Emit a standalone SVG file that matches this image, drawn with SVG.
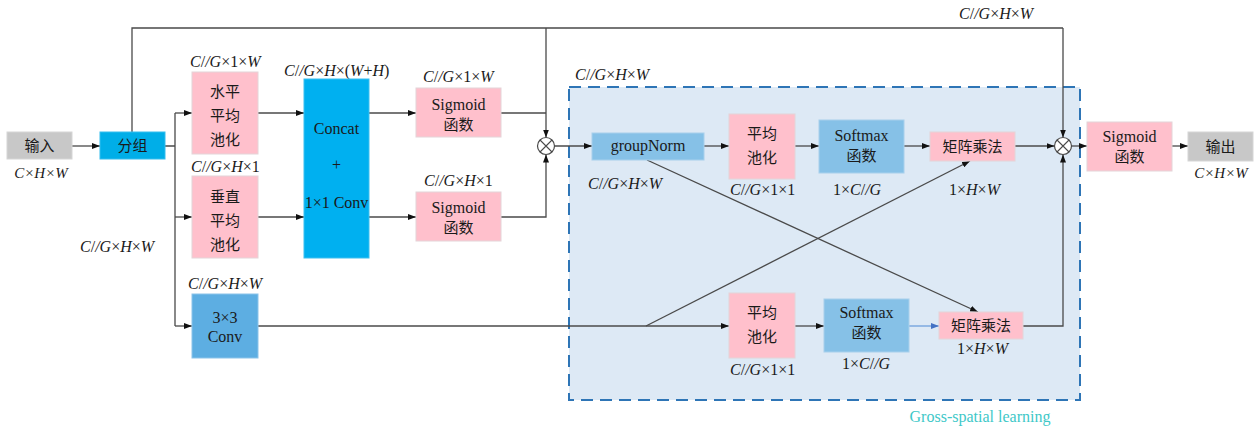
<svg xmlns="http://www.w3.org/2000/svg" width="1254" height="427" viewBox="0 0 1254 427">
  <style>
    .lbl { font-family: "Liberation Serif", "Times New Roman", "DejaVu Serif", "Noto Sans CJK SC", serif; font-size: 16px; fill: #1a1a1a; }
    .sm { font-size: 15px; }
    .it { font-style: italic; }
    .txt { font-family: "Liberation Serif", "Times New Roman", "DejaVu Serif", "Noto Sans CJK SC", serif; font-size: 16px; fill: #1a1a1a; text-anchor: middle; }
    .cjk { font-family: "Noto Sans CJK SC", sans-serif; font-size: 15px; fill: #1a1a1a; text-anchor: middle; }
    .gray { fill: #c8c8c8; stroke: #d6d6d6; }
    .cyan { fill: #00aee8; stroke: #34bdee; }
    .pink { fill: #ffc0cc; stroke: #e4d4d8; }
    .lblue { fill: #86c1e7; stroke: #a8d0ec; }
    .mblue { fill: #5daee2; stroke: #8cc4ea; }
    .wire { fill: none; stroke: #4a4a4a; stroke-width: 1.3; }
    .wire-a { fill: none; stroke: #4a4a4a; stroke-width: 1.3; marker-end: url(#arr); }
    .wire-b { fill: none; stroke: #6f9fdc; stroke-width: 1.3; marker-end: url(#arrb); }
  </style>
  <defs>
    <marker id="arr" markerWidth="8" markerHeight="6" refX="8" refY="3" orient="auto" markerUnits="userSpaceOnUse">
      <path d="M0,0 L8,3 L0,6 z" fill="#111"/>
    </marker>
    <marker id="arrb" markerWidth="8" markerHeight="6" refX="8" refY="3" orient="auto" markerUnits="userSpaceOnUse">
      <path d="M0,0 L8,3 L0,6 z" fill="#4472c4"/>
    </marker>
  </defs>

  <rect width="1254" height="427" fill="#ffffff"/>

  <!-- Cross-spatial learning region -->
  <g id="cross-spatial">
    <rect x="569" y="87" width="511" height="313" fill="#dde9f5" stroke="#2e75b6" stroke-width="2" stroke-dasharray="12,7"/>
    <text class="lbl" x="980" y="422" style="fill:#3ec8c8" text-anchor="middle">Gross-spatial learning</text>
    <text class="lbl" x="575" y="80"><tspan class="it">C</tspan>/<tspan class="it">/G</tspan>×<tspan class="it">H</tspan>×<tspan class="it">W</tspan></text>
  </g>

  <!-- Connectors -->
  <g id="connectors">
    <path class="wire-a" d="M72,146 H100"/>
    <path class="wire" d="M165,146 H175 M175,113 V326"/>
    <path class="wire-a" d="M175,113 H192"/>
    <path class="wire-a" d="M175,217 H192"/>
    <path class="wire-a" d="M175,326 H192"/>
    <path class="wire" d="M132,132 V28 H1063"/>
    <path class="wire-a" d="M546,28 V137.5"/>
    <path class="wire-a" d="M1063,28 V137.5"/>
    <path class="wire-a" d="M258,113 H304"/>
    <path class="wire-a" d="M258,217 H304"/>
    <path class="wire-a" d="M369,113 H416"/>
    <path class="wire-a" d="M369,217 H416"/>
    <path class="wire" d="M501,113 H546"/>
    <path class="wire-a" d="M501,217 H546 V154.5"/>
    <path class="wire-a" d="M555,146 H592"/>
    <path class="wire-a" d="M704,146 H729"/>
    <path class="wire-a" d="M795,146 H819"/>
    <path class="wire-a" d="M904,146 H930"/>
    <path class="wire-a" d="M1015,146 H1054.5"/>
    <path class="wire-a" d="M1071.5,146 H1087"/>
    <path class="wire-a" d="M1172,146 H1188"/>
    <path class="wire-a" d="M258,326 H729"/>
    <path class="wire-a" d="M646,326 L970,161"/>
    <path class="wire-a" d="M647,160 L978,312"/>
    <path class="wire-a" d="M795,326 H824"/>
    <path class="wire-b" d="M909,326 H939"/>
    <path class="wire-a" d="M1023,326 H1063 V154.5"/>
  </g>

  <!-- Multiplication nodes -->
  <g id="mul1">
    <circle cx="546" cy="146" r="8.5" fill="#ffffff" stroke="#4a4a4a" stroke-width="1.2"/>
    <path d="M540,140 L552,152 M552,140 L540,152" stroke="#4a4a4a" stroke-width="1.1"/>
  </g>
  <g id="mul2">
    <circle cx="1063" cy="146" r="8.5" fill="#ffffff" stroke="#4a4a4a" stroke-width="1.2"/>
    <path d="M1057,140 L1069,152 M1069,140 L1057,152" stroke="#4a4a4a" stroke-width="1.1"/>
  </g>

  <!-- Input -->
  <g id="input">
    <rect class="gray" x="7" y="132" width="65" height="27"/>
    <text class="cjk" x="39.5" y="151" font-size="16">输入</text>
    <text class="lbl sm it" x="41" y="178" text-anchor="middle">C×H×W</text>
  </g>

  <!-- Grouping -->
  <g id="group">
    <rect class="cyan" x="100" y="132" width="65" height="27"/>
    <text class="cjk" x="132.5" y="151" font-size="16">分组</text>
  </g>
  <text class="lbl" x="80" y="252"><tspan class="it">C</tspan>/<tspan class="it">/G</tspan>×<tspan class="it">H</tspan>×<tspan class="it">W</tspan></text>

  <!-- Horizontal pooling -->
  <g id="pool-x">
    <text class="lbl" x="190" y="67"><tspan class="it">C</tspan>/<tspan class="it">/G</tspan>×1×<tspan class="it">W</tspan></text>
    <rect class="pink" x="192" y="72" width="66" height="82"/>
    <text class="cjk" x="225" y="97">水平</text>
    <text class="cjk" x="225" y="121">平均</text>
    <text class="cjk" x="225" y="145">池化</text>
  </g>

  <!-- Vertical pooling -->
  <g id="pool-y">
    <text class="lbl" x="191" y="172"><tspan class="it">C</tspan>/<tspan class="it">/G</tspan>×<tspan class="it">H</tspan>×1</text>
    <rect class="pink" x="192" y="176" width="66" height="82"/>
    <text class="cjk" x="225" y="202">垂直</text>
    <text class="cjk" x="225" y="226">平均</text>
    <text class="cjk" x="225" y="250">池化</text>
  </g>

  <!-- 3x3 conv -->
  <g id="conv3">
    <text class="lbl" x="188" y="289"><tspan class="it">C</tspan>/<tspan class="it">/G</tspan>×<tspan class="it">H</tspan>×<tspan class="it">W</tspan></text>
    <rect class="mblue" x="192" y="294" width="66" height="64"/>
    <text class="txt" x="225" y="323">3×3</text>
    <text class="txt" x="225" y="342">Conv</text>
  </g>

  <!-- Concat + 1x1 conv -->
  <g id="concat">
    <text class="lbl" x="284" y="76"><tspan class="it">C</tspan>/<tspan class="it">/G</tspan>×<tspan class="it">H</tspan>×(<tspan class="it">W</tspan>+<tspan class="it">H</tspan>)</text>
    <rect x="304" y="79" width="65" height="179" fill="#00b0f0" stroke="#3cbff0"/>
    <text class="txt" x="336.5" y="134">Concat</text>
    <text class="txt" x="336.5" y="170">+</text>
    <text class="txt" x="336.5" y="208">1×1 Conv</text>
  </g>

  <!-- Sigmoid (horizontal) -->
  <g id="sig-x">
    <text class="lbl" x="423" y="82"><tspan class="it">C</tspan>/<tspan class="it">/G</tspan>×1×<tspan class="it">W</tspan></text>
    <rect class="pink" x="416" y="88" width="85" height="49"/>
    <text class="txt" x="458.5" y="110">Sigmoid</text>
    <text class="cjk" x="458.5" y="130">函数</text>
  </g>

  <!-- Sigmoid (vertical) -->
  <g id="sig-y">
    <text class="lbl" x="424" y="186"><tspan class="it">C</tspan>/<tspan class="it">/G</tspan>×<tspan class="it">H</tspan>×1</text>
    <rect class="pink" x="416" y="192" width="85" height="49"/>
    <text class="txt" x="458.5" y="213">Sigmoid</text>
    <text class="cjk" x="458.5" y="233">函数</text>
  </g>

  <!-- groupNorm -->
  <g id="groupnorm">
    <rect class="lblue" x="592" y="133" width="112" height="27"/>
    <text class="txt" x="648" y="151">groupNorm</text>
    <text class="lbl" x="588" y="189"><tspan class="it">C</tspan>/<tspan class="it">/G</tspan>×<tspan class="it">H</tspan>×<tspan class="it">W</tspan></text>
  </g>

  <!-- Average pooling (upper) -->
  <g id="avg1">
    <rect class="pink" x="729" y="114" width="66" height="65"/>
    <text class="cjk" x="762" y="139">平均</text>
    <text class="cjk" x="762" y="163">池化</text>
    <text class="lbl" x="730" y="195"><tspan class="it">C</tspan>/<tspan class="it">/G</tspan>×1×1</text>
  </g>

  <!-- Softmax (upper) -->
  <g id="softmax1">
    <rect class="lblue" x="819" y="120" width="85" height="53"/>
    <text class="txt" x="861.5" y="141">Softmax</text>
    <text class="cjk" x="861.5" y="161">函数</text>
    <text class="lbl" x="833" y="195">1×<tspan class="it">C</tspan>/<tspan class="it">/G</tspan></text>
  </g>

  <!-- Matrix multiplication (upper) -->
  <g id="matmul1">
    <rect class="pink" x="930" y="132" width="85" height="29"/>
    <text class="cjk" x="972.5" y="152">矩阵乘法</text>
    <text class="lbl" x="949" y="195">1×<tspan class="it">H</tspan>×<tspan class="it">W</tspan></text>
  </g>

  <!-- Average pooling (lower) -->
  <g id="avg2">
    <rect class="pink" x="729" y="293" width="66" height="65"/>
    <text class="cjk" x="762" y="318">平均</text>
    <text class="cjk" x="762" y="342">池化</text>
    <text class="lbl" x="730" y="375"><tspan class="it">C</tspan>/<tspan class="it">/G</tspan>×1×1</text>
  </g>

  <!-- Softmax (lower) -->
  <g id="softmax2">
    <rect class="lblue" x="824" y="299" width="85" height="53"/>
    <text class="txt" x="866.5" y="318">Softmax</text>
    <text class="cjk" x="866.5" y="338">函数</text>
    <text class="lbl" x="842" y="369">1×<tspan class="it">C</tspan>/<tspan class="it">/G</tspan></text>
  </g>

  <!-- Matrix multiplication (lower) -->
  <g id="matmul2">
    <rect class="pink" x="939" y="312" width="84" height="27"/>
    <text class="cjk" x="981" y="331">矩阵乘法</text>
    <text class="lbl" x="957" y="354">1×<tspan class="it">H</tspan>×<tspan class="it">W</tspan></text>
  </g>

  <!-- Skip label -->
  <text class="lbl" x="959" y="19"><tspan class="it">C</tspan>/<tspan class="it">/G</tspan>×<tspan class="it">H</tspan>×<tspan class="it">W</tspan></text>

  <!-- Output sigmoid -->
  <g id="sig-out">
    <rect class="pink" x="1087" y="122" width="85" height="49"/>
    <text class="txt" x="1129.5" y="142">Sigmoid</text>
    <text class="cjk" x="1129.5" y="162">函数</text>
  </g>

  <!-- Output -->
  <g id="output">
    <rect class="gray" x="1188" y="132" width="65" height="29"/>
    <text class="cjk" x="1220.5" y="152" font-size="16">输出</text>
    <text class="lbl sm it" x="1221" y="178" text-anchor="middle">C×H×W</text>
  </g>
</svg>
